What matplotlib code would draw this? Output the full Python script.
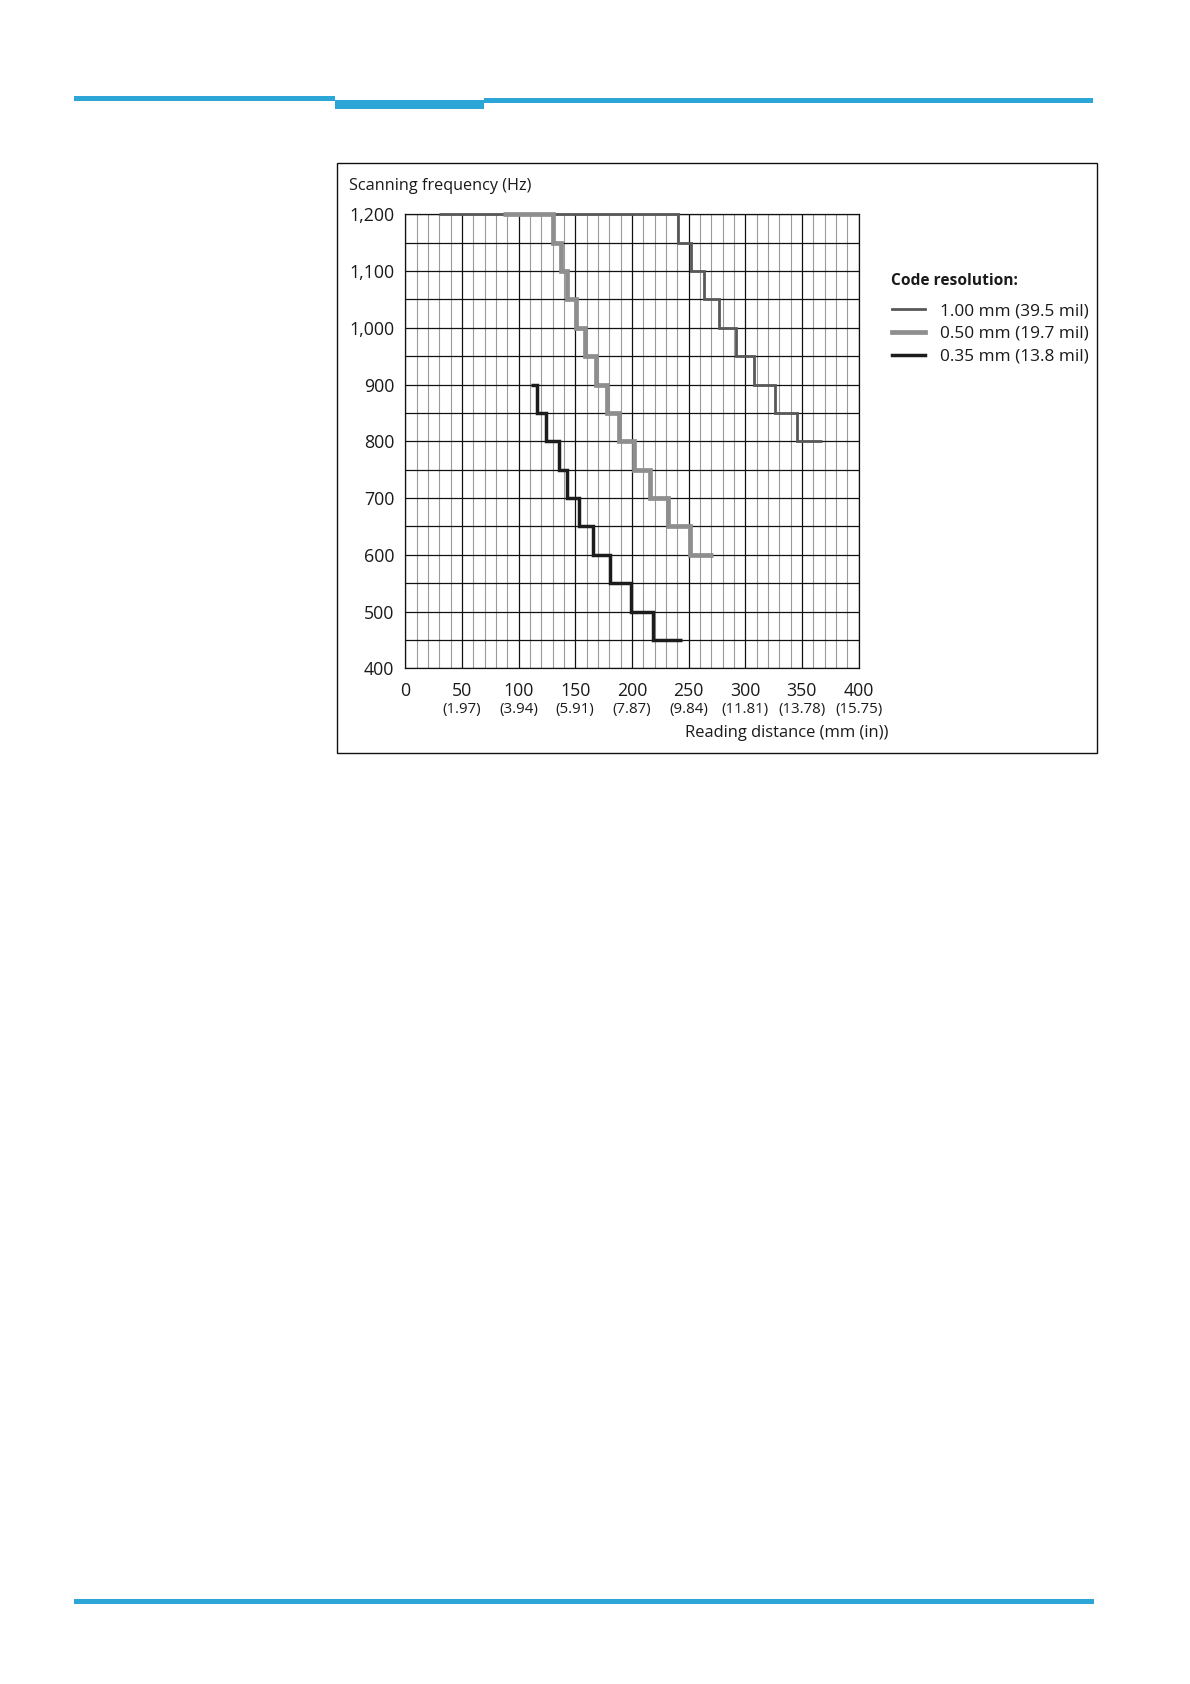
import matplotlib
matplotlib.use("Agg")
import matplotlib.pyplot as plt
from matplotlib.patches import Rectangle
from matplotlib.ticker import MultipleLocator, FixedLocator

plt.rcParams['font.family'] = ['Open Sans', 'DejaVu Sans']

# ---------------- data ----------------
res_labels = ["1.00 mm (39.5 mil)", "0.50 mm (19.7 mil)", "0.35 mm (13.8 mil)"]

edges_100 = [30, 241, 252, 264, 277, 292, 308, 326, 346, 368]
freq_100 = [1200, 1150, 1100, 1050, 1000, 950, 900, 850, 800]

edges_050 = [86, 130, 137, 143, 151, 159, 168, 178, 189, 202, 216, 232, 251, 272]
freq_050 = [1200, 1150, 1100, 1050, 1000, 950, 900, 850, 800, 750, 700, 650, 600]

edges_035 = [111, 116, 124, 136, 143, 153, 166, 181, 199, 219, 244]
freq_035 = [900, 850, 800, 750, 700, 650, 600, 550, 500, 450]

x_ticks_mm = [0, 50, 100, 150, 200, 250, 300, 350, 400]
x_ticks_in = ["", "(1.97)", "(3.94)", "(5.91)", "(7.87)", "(9.84)", "(11.81)", "(13.78)", "(15.75)"]
y_ticks = [400, 500, 600, 700, 800, 900, 1000, 1100, 1200]
y_tick_labels = ["400", "500", "600", "700", "800", "900", "1,000", "1,100", "1,200"]

colors = ["#585858", "#8e8e8e", "#1c1c1c"]
widths = [2.0, 3.4, 2.5]

W, H = 1190, 1684
fig = plt.figure(figsize=(W / 100, H / 100), dpi=100)

def px_rect(x0, y0, x1, y1, **kw):
    return Rectangle((x0 / W, 1 - y1 / H), (x1 - x0) / W, (y1 - y0) / H,
                     transform=fig.transFigure, **kw)

blue = "#2ba6d6"
for (x0, y0, x1, y1) in [(74, 96, 335, 101), (335, 100, 484, 109), (484, 98, 1093, 103),
                         (74, 1599, 1094, 1604)]:
    fig.add_artist(px_rect(x0, y0, x1, y1, facecolor=blue, edgecolor="none"))

# frame
fig.add_artist(px_rect(337, 163, 1097, 753, facecolor="none", edgecolor="#111111", linewidth=1.0))

ax_l, ax_r, ax_t, ax_b = 405.3, 858.5, 214.3, 668.3
ax = fig.add_axes([ax_l / W, 1 - ax_b / H, (ax_r - ax_l) / W, (ax_b - ax_t) / H])
ax.set_xlim(0, 400)
ax.set_ylim(400, 1200)

ax.xaxis.set_major_locator(FixedLocator(x_ticks_mm))
ax.xaxis.set_minor_locator(MultipleLocator(10))
ax.yaxis.set_major_locator(FixedLocator(y_ticks))
ax.yaxis.set_minor_locator(MultipleLocator(50))
ax.set_yticklabels(y_tick_labels)
ax.set_xticklabels([str(v) for v in x_ticks_mm])

ax.grid(which="minor", axis="x", color="#9a9a9a", linewidth=0.8)
ax.grid(which="major", axis="x", color="#111111", linewidth=0.9)
ax.grid(which="both", axis="y", color="#111111", linewidth=0.9)
ax.set_axisbelow(True)
ax.tick_params(which="both", length=0)
ax.tick_params(axis="y", pad=8.0, labelsize=12.8, colors="#1a1a1a")
ax.tick_params(axis="x", pad=10, labelsize=12.8, colors="#1a1a1a")
for s in ax.spines.values():
    s.set_color("#111111")
    s.set_linewidth(0.9)

for x, lab in zip(x_ticks_mm, x_ticks_in):
    if lab:
        ax.text(x, -(709 - ax_b) / (ax_b - ax_t), lab, transform=ax.get_xaxis_transform(),
                ha="center", va="center", fontsize=10.8, color="#1a1a1a")

series = [(edges_100, freq_100), (edges_050, freq_050), (edges_035, freq_035)]
for (e, f), c, lw, lab in zip(series, colors, widths, res_labels):
    ax.stairs(f, e, baseline=None, color=c, linewidth=lw, label=lab, clip_on=False, zorder=3)

ax.set_xlabel("Reading distance (mm (in))", fontsize=11.9, color="#1a1a1a", ha="center", va="center")
ax.xaxis.set_label_coords((787 - ax_l) / (ax_r - ax_l), -(733 - ax_b) / (ax_b - ax_t))
ax.set_ylabel("Scanning frequency (Hz)", fontsize=11.7, color="#1a1a1a", rotation=0,
              ha="left", va="center")
ax.yaxis.set_label_coords((349 - ax_l) / (ax_r - ax_l), (ax_b - 186) / (ax_b - ax_t))

fig.text(891 / W, 1 - 281 / H, "Code resolution:", fontsize=11.2, fontweight="bold",
         color="#1a1a1a", ha="left", va="center")
leg = fig.legend(loc="upper left", bbox_to_anchor=(892 / W, 1 - 303 / H),
                 frameon=False, fontsize=12.4,
                 handlelength=1.9, handletextpad=0.88,
                 labelspacing=0.4, borderpad=0, borderaxespad=0)
for t in leg.get_texts():
    t.set_color("#1a1a1a")

fig.savefig("out.png", dpi=100, facecolor="white")
